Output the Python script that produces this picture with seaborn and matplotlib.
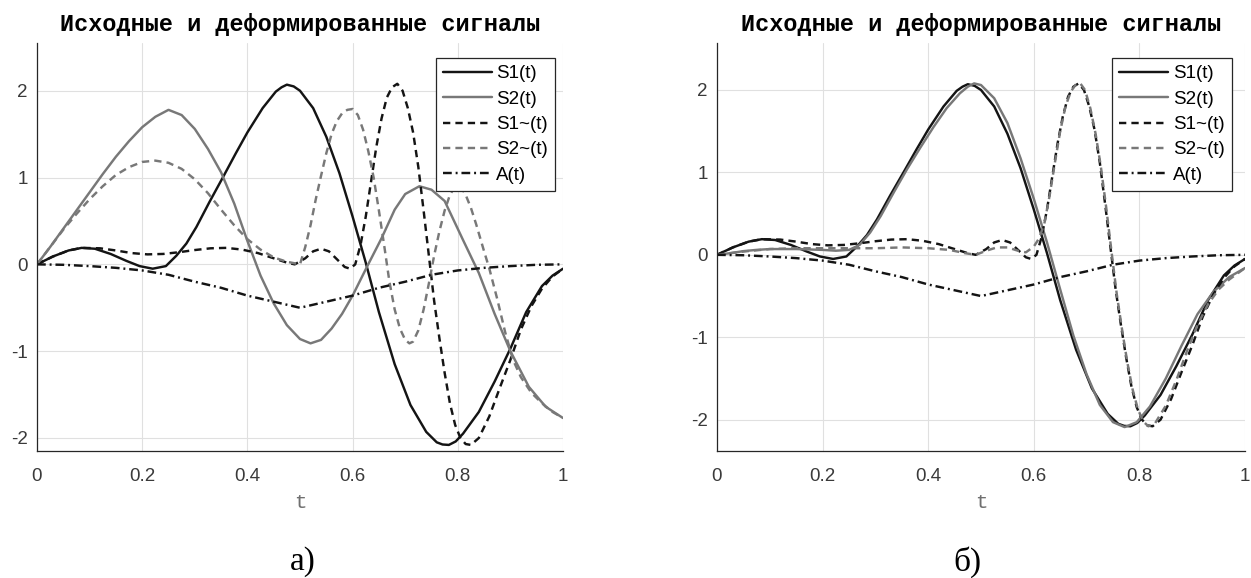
import matplotlib
matplotlib.use("Agg")
import matplotlib.pyplot as plt
import seaborn as sns

# ---- signal samples -------------------------------------------------------
# S1(t): reference signal (same in both panels)
t_s1 = [0, 0.03, 0.06, 0.085, 0.11, 0.14, 0.17, 0.195, 0.22, 0.245,
        0.265, 0.284, 0.303, 0.328, 0.355, 0.378, 0.4, 0.429, 0.454, 0.465,
        0.475, 0.488, 0.5, 0.525, 0.55, 0.575, 0.6, 0.625, 0.65, 0.68,
        0.71, 0.74, 0.76, 0.771, 0.783, 0.796, 0.81, 0.84, 0.87, 0.9,
        0.93, 0.96, 0.98, 1.0]
s1 = [0, 0.09, 0.16, 0.19, 0.18, 0.12, 0.04, -0.02, -0.05, -0.02,
      0.1, 0.24, 0.43, 0.72, 1.02, 1.28, 1.52, 1.8, 1.99, 2.04,
      2.07, 2.05, 2.0, 1.8, 1.47, 1.05, 0.55, 0.02, -0.55, -1.15,
      -1.62, -1.93, -2.05, -2.075, -2.08, -2.04, -1.95, -1.7, -1.35, -0.97,
      -0.55, -0.25, -0.13, -0.05]

# S1~(t): deformed reference signal (same in both panels)
t_s1d = [0, 0.03, 0.06, 0.085, 0.12, 0.15, 0.18, 0.21, 0.24, 0.27,
         0.3, 0.33, 0.36, 0.39, 0.42, 0.45, 0.475, 0.49, 0.51, 0.525,
         0.54, 0.555, 0.57, 0.585, 0.595, 0.605, 0.615, 0.625, 0.635, 0.645,
         0.655, 0.665, 0.675, 0.685, 0.695, 0.705, 0.715, 0.725, 0.735, 0.745,
         0.755, 0.765, 0.775, 0.785, 0.795, 0.805, 0.815, 0.825, 0.84, 0.86,
         0.88, 0.9, 0.92, 0.94, 0.96, 0.98, 1.0]
s1d = [0, 0.09, 0.16, 0.19, 0.185, 0.16, 0.13, 0.115, 0.12, 0.14,
       0.165, 0.185, 0.19, 0.17, 0.13, 0.07, 0.02, 0.0, 0.07, 0.15,
       0.18, 0.15, 0.06, -0.03, -0.05, 0.0, 0.22, 0.55, 0.95, 1.35,
       1.68, 1.92, 2.04, 2.08, 2.0, 1.8, 1.52, 1.12, 0.62, 0.1,
       -0.42, -0.85, -1.25, -1.6, -1.85, -2.0, -2.07, -2.08, -2.0, -1.75,
       -1.42, -1.1, -0.75, -0.48, -0.28, -0.14, -0.05]

# A(t): deformation function (same in both panels)
t_a = [0, 0.05, 0.1, 0.15, 0.2, 0.25, 0.3, 0.35, 0.4, 0.45, 0.5,
       0.55, 0.6, 0.65, 0.7, 0.75, 0.8, 0.85, 0.9, 0.95, 1.0]
a = [0, -0.005, -0.02, -0.04, -0.07, -0.12, -0.2, -0.27, -0.36, -0.43, -0.5,
     -0.43, -0.36, -0.27, -0.2, -0.12, -0.07, -0.04, -0.02, -0.005, 0]

# panel (а): second signal and its deformed version
t_s2_a = [0, 0.025, 0.05, 0.075, 0.1, 0.125, 0.15, 0.175, 0.2, 0.225,
          0.25, 0.275, 0.3, 0.325, 0.35, 0.375, 0.4, 0.425, 0.45, 0.475,
          0.5, 0.52, 0.54, 0.56, 0.58, 0.6, 0.628, 0.655, 0.68, 0.7,
          0.727, 0.75, 0.775, 0.81, 0.84, 0.87, 0.9, 0.935, 0.967, 1.0]
s2_a = [0, 0.2, 0.41, 0.62, 0.83, 1.04, 1.24, 1.42, 1.58, 1.7,
        1.78, 1.72, 1.56, 1.33, 1.06, 0.7, 0.27, -0.13, -0.45, -0.7,
        -0.86, -0.91, -0.87, -0.74, -0.57, -0.36, -0.02, 0.3, 0.63, 0.81,
        0.9, 0.86, 0.73, 0.28, -0.1, -0.57, -1.0, -1.41, -1.64, -1.77]

t_s2d_a = [0, 0.025, 0.05, 0.075, 0.1, 0.125, 0.15, 0.175, 0.2, 0.225,
           0.25, 0.275, 0.3, 0.325, 0.35, 0.375, 0.4, 0.425, 0.45, 0.475,
           0.5, 0.51, 0.52, 0.53, 0.54, 0.55, 0.56, 0.57, 0.58, 0.59,
           0.6, 0.61, 0.62, 0.63, 0.64, 0.65, 0.66, 0.67, 0.68, 0.69,
           0.7, 0.708, 0.715, 0.725, 0.735, 0.745, 0.755, 0.765, 0.775, 0.785,
           0.795, 0.805, 0.815, 0.825, 0.835, 0.85, 0.86, 0.875, 0.89, 0.905,
           0.92, 0.94, 0.96, 0.98, 1.0]
s2d_a = [0, 0.2, 0.4, 0.58, 0.75, 0.9, 1.03, 1.12, 1.18, 1.195,
         1.17, 1.1, 0.98, 0.82, 0.63, 0.45, 0.29, 0.17, 0.08, 0.03,
         0.0, 0.2, 0.45, 0.75, 1.02, 1.28, 1.5, 1.65, 1.74, 1.78,
         1.79, 1.72, 1.55, 1.3, 1.0, 0.62, 0.22, -0.2, -0.52, -0.74,
         -0.87, -0.91, -0.89, -0.76, -0.52, -0.22, 0.1, 0.38, 0.62, 0.8,
         0.9, 0.9, 0.8, 0.65, 0.46, 0.15, -0.05, -0.4, -0.78, -1.1,
         -1.3, -1.48, -1.6, -1.7, -1.77]

# panel (б): second signal and its deformed version
t_s2_b = [0, 0.025, 0.05, 0.075, 0.1, 0.15, 0.2, 0.225, 0.25, 0.27,
          0.29, 0.31, 0.335, 0.36, 0.385, 0.41, 0.435, 0.46, 0.475, 0.487,
          0.5, 0.525, 0.55, 0.575, 0.6, 0.625, 0.65, 0.675, 0.7, 0.725,
          0.75, 0.772, 0.795, 0.82, 0.85, 0.88, 0.91, 0.94, 0.97, 1.0]
s2_b = [0, 0.02, 0.045, 0.06, 0.07, 0.07, 0.06, 0.05, 0.06, 0.12,
        0.27, 0.47, 0.76, 1.04, 1.3, 1.55, 1.78, 1.96, 2.04, 2.08,
        2.06, 1.9, 1.6, 1.17, 0.68, 0.15, -0.42, -0.98, -1.45, -1.82,
        -2.03, -2.09, -2.03, -1.84, -1.5, -1.1, -0.72, -0.45, -0.27, -0.16]

t_s2d_b = [0, 0.05, 0.1, 0.15, 0.2, 0.25, 0.3, 0.35, 0.4, 0.44,
           0.47, 0.49, 0.51, 0.53, 0.55, 0.57, 0.585, 0.6, 0.61, 0.62,
           0.63, 0.64, 0.65, 0.66, 0.67, 0.68, 0.688, 0.697, 0.707, 0.717,
           0.727, 0.737, 0.747, 0.757, 0.767, 0.777, 0.787, 0.797, 0.807, 0.817,
           0.83, 0.85, 0.87, 0.89, 0.91, 0.93, 0.95, 0.97, 1.0]
s2d_b = [0, 0.04, 0.07, 0.08, 0.08, 0.08, 0.08, 0.09, 0.08, 0.06,
         0.02, 0.0, 0.05, 0.09, 0.09, 0.05, 0.03, 0.1, 0.2, 0.38,
         0.72, 1.12, 1.5, 1.8, 1.98, 2.07, 2.08, 2.0, 1.78, 1.47,
         1.07, 0.58, 0.05, -0.47, -0.9, -1.3, -1.63, -1.87, -2.02, -2.08,
         -2.04, -1.83, -1.52, -1.17, -0.85, -0.6, -0.42, -0.3, -0.16]

labels = ["S1(t)", "S2(t)", "S1~(t)", "S2~(t)", "A(t)"]
x_ticks = [0, 0.2, 0.4, 0.6, 0.8, 1.0]
x_tick_labels = ["0", "0.2", "0.4", "0.6", "0.8", "1"]
y_ticks = [-2, -1, 0, 1, 2]
y_tick_labels = ["-2", "-1", "0", "1", "2"]
title = "Исходные и деформированные сигналы"

# ---- styling --------------------------------------------------------------
sns.set_theme(style="whitegrid")
plt.rcParams.update({
    "font.family": ["Liberation Sans", "DejaVu Sans"],
    "axes.unicode_minus": False,
    "axes.facecolor": "white",
    "figure.facecolor": "white",
    "grid.color": "#e0e0e0",
    "grid.linewidth": 0.8,
})

BLACK = "#141414"
GRAY = "#787878"
AX_COLOR = "#262626"
DASH = (0, (3.0, 2.1))
DASHDOT = (0, (3.6, 1.6, 0.8, 1.6))
LW = 1.75

W, H = 1251, 578
fig = plt.figure(figsize=(W / 100, H / 100), dpi=100)


def panel(rect, s2t, s2v, s2dt, s2dv, ylim, leg_anchor):
    ax = fig.add_axes(rect)
    series = [
        (t_s1, s1, BLACK, "-"),
        (s2t, s2v, GRAY, "-"),
        (t_s1d, s1d, BLACK, DASH),
        (s2dt, s2dv, GRAY, DASH),
        (t_a, a, BLACK, DASHDOT),
    ]
    for (tx, vy, col, ls), lab in zip(series, labels):
        sns.lineplot(x=tx, y=vy, ax=ax, color=col, linestyle=ls,
                     linewidth=LW, label=lab, sort=False, estimator=None)
    ax.set_xlim(0, 1)
    ax.set_ylim(*ylim)
    ax.set_xticks(x_ticks)
    ax.set_xticklabels(x_tick_labels)
    ax.set_yticks(y_ticks)
    ax.set_yticklabels(y_tick_labels)
    ax.grid(True)
    for side in ("top", "right"):
        ax.spines[side].set_visible(False)
    for side in ("left", "bottom"):
        ax.spines[side].set_color(AX_COLOR)
        ax.spines[side].set_linewidth(0.9)
    ax.tick_params(axis="both", direction="in", length=3.5, width=0.8,
                   colors=AX_COLOR, labelcolor="#3a3a3a", labelsize=13.5)
    ax.tick_params(axis="x", pad=12)
    ax.tick_params(axis="y", pad=6.5)
    ax.set_title(title, family="Liberation Mono", fontweight="bold",
                 fontsize=16.9, pad=9, color="black")
    ax.set_xlabel("t", family="Liberation Mono", fontsize=15, color="#707070")
    ax.xaxis.set_label_coords(0.5, (451 - 493) / 408)
    ax.set_ylabel("")
    leg = ax.legend(loc="upper right", bbox_to_anchor=leg_anchor,
                    borderaxespad=0, frameon=True, fancybox=False,
                    edgecolor=AX_COLOR, framealpha=1, fontsize=13.5,
                    handlelength=2.6, handletextpad=0.25,
                    labelspacing=0.44, borderpad=0.38)
    leg.get_frame().set_linewidth(0.9)
    for txt in leg.get_texts():
        txt.set_color("black")
    return ax


bottom = 1 - 451 / H
height = 408 / H
panel([37 / W, bottom, 526 / W, height], t_s2_a, s2_a, t_s2d_a, s2d_a,
      (-2.15, 2.55), (0.985, 0.963))
panel([717 / W, bottom, 528 / W, height], t_s2_b, s2_b, t_s2d_b, s2d_b,
      (-2.38, 2.57), (0.975, 0.963))

fig.text(303 / W, 1 - 562 / H, "а)", family="Liberation Serif", fontsize=24,
         ha="center", va="center", color="black")
fig.text(967 / W, 1 - 562 / H, "б)", family="Liberation Serif", fontsize=24,
         ha="center", va="center", color="black")

fig.savefig("out.png", dpi=100, facecolor="white")
